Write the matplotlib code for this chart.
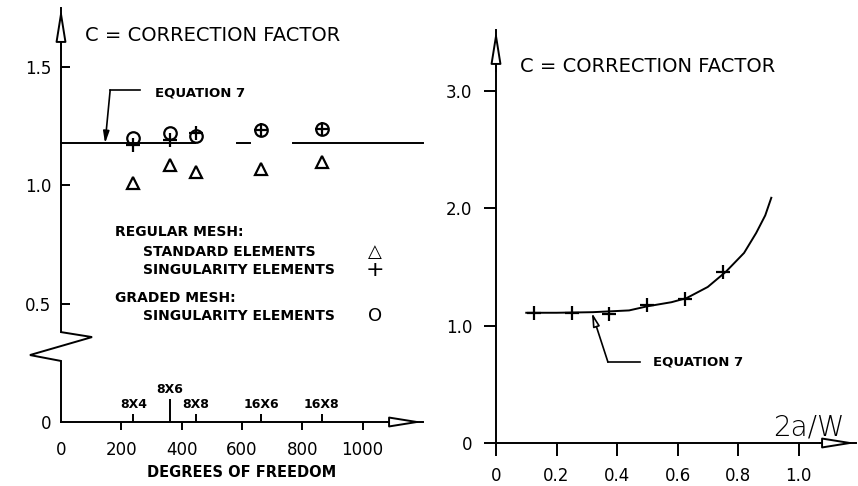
import numpy as np
import matplotlib
matplotlib.use("Agg")
import matplotlib.pyplot as plt

plt.rcParams["font.family"] = "DejaVu Sans"

# ---- left panel: correction factor vs. degrees of freedom ----
mesh_names = ["8X4", "8X6", "8X8", "16X6", "16X8"]
mesh_dof = [240, 360, 448, 664, 864]
c_standard = [1.01, 1.085, 1.055, 1.07, 1.10]      # regular mesh, standard elements
c_singular = [1.17, 1.19, 1.22, 1.235, 1.24]       # regular mesh, singularity elements
c_graded = [1.20, 1.22, 1.21, 1.235, 1.24]         # graded mesh, singularity elements
c_eq7_left = 1.178
eq7_segments = [(0, 445), (585, 625), (770, 1200)]
left_xticks = [0, 200, 400, 600, 800, 1000]
left_yticks = [0, 0.5, 1.0, 1.5]

# ---- right panel: correction factor vs. 2a/W ----
eq7_x = [0.10, 0.20, 0.32, 0.44, 0.50, 0.58, 0.63, 0.70, 0.76, 0.82, 0.86, 0.89, 0.91]
eq7_c = [1.11, 1.11, 1.115, 1.13, 1.165, 1.20, 1.235, 1.33, 1.46, 1.62, 1.79, 1.94, 2.09]
fe_x = [0.125, 0.25, 0.375, 0.5, 0.625, 0.75]
fe_c = [1.11, 1.11, 1.10, 1.18, 1.23, 1.46]
right_xticks = [0, 0.2, 0.4, 0.6, 0.8, 1.0]
right_yticks = [0, 1.0, 2.0, 3.0]

W, H = 858, 486
fig = plt.figure(figsize=(W / 100, H / 100), dpi=100)

LW = 1.4
open_head = dict(arrowstyle="-|>,head_length=2.0,head_width=0.32",
                 fc="white", ec="k", lw=LW, shrinkA=0, shrinkB=0)


def axis_arrows(ax):
    ax.annotate("", xy=(0, 1), xycoords="axes fraction", xytext=(0, 0.9),
                arrowprops=open_head, annotation_clip=False)
    ax.annotate("", xy=(1, 0), xycoords="axes fraction", xytext=(0.9, 0),
                arrowprops=open_head, annotation_clip=False)


# ================= left =================
ax = fig.add_axes([61 / W, 64 / H, 362 / W, 414 / H])
ax.set_xlim(0, 1200)
ax.set_ylim(0, 1.75)
for s in ["top", "right", "left"]:
    ax.spines[s].set_visible(False)
ax.spines["bottom"].set_linewidth(LW)

# y axis with a break
ax.plot([0, 0, 103, -103, 0, 0], [1.75, 0.38, 0.359, 0.283, 0.258, 0],
        color="k", lw=LW, clip_on=False, solid_joinstyle="miter")
axis_arrows(ax)

ax.set_xticks(left_xticks)
ax.set_xticklabels([str(t) for t in left_xticks], fontsize=12)
ax.tick_params(axis="x", direction="out", length=6, width=LW, pad=8)
ax.xaxis.get_major_ticks()[0].tick1line.set_visible(False)
ax.set_yticks(left_yticks)
ax.set_yticklabels(["0", "0.5", "1.0", "1.5"], fontsize=12)
ax.tick_params(axis="y", direction="in", length=6.5, width=LW, pad=7)
ax.yaxis.get_major_ticks()[0].tick1line.set_visible(False)

# mesh markers on the x axis
tick_h = [0.034, 0.097, 0.034, 0.034, 0.034]
ax.vlines(mesh_dof, 0, tick_h, color="k", lw=LW)
for d, n, h in zip(mesh_dof, mesh_names, tick_h):
    ax.text(d, h + 0.012, n, ha="center", va="bottom", fontsize=9, fontweight="bold")

for a, b in eq7_segments:
    ax.plot([a, b], [c_eq7_left, c_eq7_left], color="k", lw=LW, clip_on=False)

ax.plot(mesh_dof, c_standard, "^", ms=9, mfc="none", mec="k", mew=1.6)
ax.plot(mesh_dof, c_singular, "+", ms=10, mec="k", mew=1.6)
ax.plot(mesh_dof, c_graded, "o", ms=9, mfc="none", mec="k", mew=1.6)

# equation 7 leader
ax.plot([262, 163], [1.403, 1.403], color="k", lw=1.2)
ax.annotate("", xy=(146, c_eq7_left), xytext=(163, 1.403),
            arrowprops=dict(arrowstyle="-|>,head_length=0.7,head_width=0.18",
                            fc="k", ec="k", lw=1.2, shrinkA=0, shrinkB=0))
ax.text(312, 1.39, "EQUATION 7", fontsize=9.5, fontweight="bold", va="center")

ax.text(80, 1.635, "C = CORRECTION FACTOR", fontsize=14, va="center")

lg = dict(fontsize=10, fontweight="bold", va="center")
ax.text(179, 0.803, "REGULAR MESH:", **lg)
ax.text(272, 0.718, "STANDARD ELEMENTS", **lg)
ax.text(272, 0.642, "SINGULARITY ELEMENTS", **lg)
ax.text(179, 0.524, "GRADED MESH:", **lg)
ax.text(272, 0.448, "SINGULARITY ELEMENTS", **lg)
ax.text(1041, 0.718, "\u25b3", fontsize=13, ha="center", va="center", fontweight="bold")
ax.text(1041, 0.642, "+", fontsize=16, ha="center", va="center")
ax.text(1041, 0.448, "O", fontsize=13, ha="center", va="center")

ax.set_xlabel("DEGREES OF FREEDOM", fontsize=10.5, fontweight="bold", labelpad=4)

# ================= right =================
ax2 = fig.add_axes([496 / W, 43 / H, 360 / W, 413 / H])
ax2.set_xlim(0, 1.19)
ax2.set_ylim(0, 3.52)
for s in ["top", "right"]:
    ax2.spines[s].set_visible(False)
for s in ["left", "bottom"]:
    ax2.spines[s].set_linewidth(LW)
axis_arrows(ax2)

ax2.set_xticks(right_xticks)
ax2.set_xticklabels(["0", "0.2", "0.4", "0.6", "0.8", "1.0"], fontsize=12)
ax2.tick_params(axis="x", direction="out", length=9, width=LW, pad=8)
ax2.set_yticks(right_yticks)
ax2.set_yticklabels(["0", "1.0", "2.0", "3.0"], fontsize=12)
ax2.tick_params(axis="y", direction="out", length=9, width=LW, pad=8)

ax2.plot(eq7_x, eq7_c, color="k", lw=LW)
ax2.plot(fe_x, fe_c, "+", ms=10, mec="k", mew=1.6)

ax2.plot([0.476, 0.37], [0.69, 0.69], color="k", lw=1.2)
ax2.annotate("", xy=(0.317, 1.11), xytext=(0.37, 0.69),
             arrowprops=dict(arrowstyle="-|>,head_length=0.8,head_width=0.2",
                             fc="white", ec="k", lw=1.2, shrinkA=0, shrinkB=0))
ax2.text(0.52, 0.69, "EQUATION 7", fontsize=9.5, fontweight="bold", va="center")

ax2.text(0.079, 3.205, "C = CORRECTION FACTOR", fontsize=14, va="center")
ax2.text(0.915, 0.136, "2a/W", fontsize=20, va="center", fontweight="light")

fig.savefig("out.png", dpi=100)
